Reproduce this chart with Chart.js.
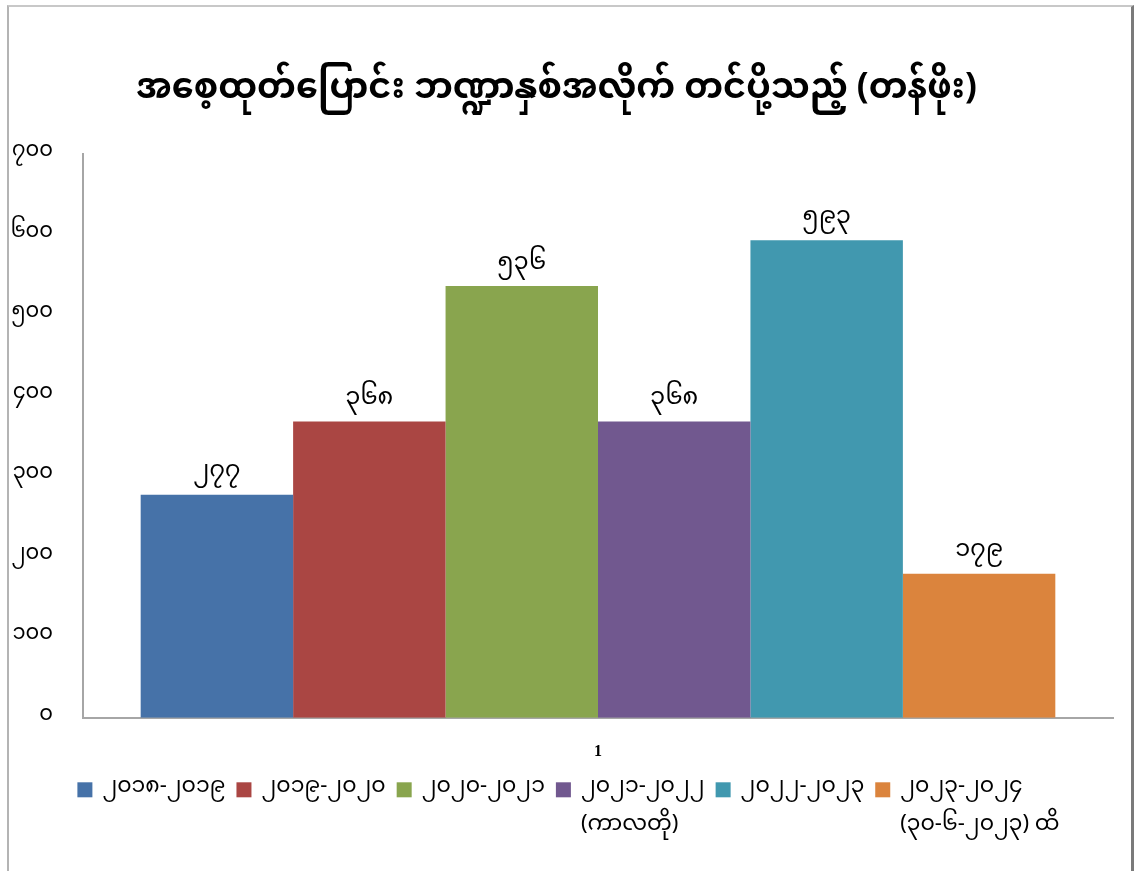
<!DOCTYPE html>
<html>
<head>
<meta charset="utf-8">
<script src="https://cdn.jsdelivr.net/npm/chart.js@4/dist/chart.umd.min.js"></script>
<style>
body { margin: 0; background: #fff; }
#wrap { position: relative; width: 1136px; height: 871px; }
#frame { position: absolute; left: 7px; top: 5px; width: 1122px; height: 880px;
  border-left: 2px solid #b4b4b4; border-top: 2px solid #c8c8c8; border-right: 3px solid #7a7a7a; }
canvas { position: absolute; left: 0; top: 0; }
</style>
</head>
<body>
<div id="wrap">
<canvas id="exportChart" width="1136" height="871"></canvas>
<div id="frame"></div>
</div>
<script>
var chartTitle = "အစေ့ထုတ်ပြောင်း ဘဏ္ဍာနှစ်အလိုက် တင်ပို့သည့် (တန်ဖိုး)";
var categories = ["1"];
var seriesNames = [
    ["၂၀၁၈-၂၀၁၉"],
    ["၂၀၁၉-၂၀၂၀"],
    ["၂၀၂၀-၂၀၂၁"],
    ["၂၀၂၁-၂၀၂၂", "(ကာလတို)"],
    ["၂၀၂၂-၂၀၂၃"],
    ["၂၀၂၃-၂၀၂၄", "(၃၀-၆-၂၀၂၃) ထိ"]
];
var seriesValues = [277, 368, 536, 368, 593, 179];
var seriesColors = ["#4672a8", "#aa4643", "#89a54e", "#71588f", "#4198af", "#db843d"];
var yTicks = [0, 100, 200, 300, 400, 500, 600, 700];

var mmFont = "'Noto Sans Myanmar', 'Myanmar Text', Padauk, 'Noto Sans', sans-serif";

// western digits -> myanmar digits
function mmDigits(n) {
    return String(n).replace(/[0-9]/g, function(d) {
        return String.fromCharCode(0x1040 + parseInt(d));
    });
}

var datasets = [];
for (var i = 0; i < seriesValues.length; i += 1) {
    datasets.push({
        label: seriesNames[i].join(" "),
        data: [seriesValues[i]],
        backgroundColor: seriesColors[i],
        borderWidth: 0,
        barPercentage: 1.0,
        categoryPercentage: 0.888
    });
}

// value labels above each bar
var valueLabels = {
    id: "valueLabels",
    afterDatasetsDraw: function(chart) {
        var ctx = chart.ctx;
        ctx.save();
        ctx.fillStyle = "#000";
        ctx.font = "24px " + mmFont;
        ctx.textAlign = "center";
        ctx.textBaseline = "bottom";
        chart.data.datasets.forEach(function(ds, i) {
            var bar = chart.getDatasetMeta(i).data[0];
            ctx.fillText(mmDigits(ds.data[0]), bar.x, bar.y - 8);
        });
        ctx.restore();
    }
};

// legend under the axis, labels can have two lines
var bottomLegend = {
    id: "bottomLegend",
    afterDraw: function(chart) {
        var ctx = chart.ctx;
        var box = 15, gap = 10, itemGap = 11, lineH = 38;
        ctx.save();
        ctx.font = "22px " + mmFont;
        var widths = [];
        var total = 0;
        for (var i = 0; i < seriesNames.length; i += 1) {
            // second lines hang below, only the first line sets spacing
            var w0 = ctx.measureText(seriesNames[i][0]).width;
            widths.push(w0);
            total += box + gap + w0 + (i < seriesNames.length - 1 ? itemGap : 0);
        }
        var x = (chart.width - total) / 2 - 18;
        var y = chart.chartArea.bottom + 72;
        ctx.textBaseline = "middle";
        ctx.textAlign = "left";
        for (var k = 0; k < seriesNames.length; k += 1) {
            ctx.fillStyle = seriesColors[k];
            ctx.fillRect(x, y - box / 2, box, box);
            ctx.fillStyle = "#000";
            for (var m = 0; m < seriesNames[k].length; m += 1) {
                ctx.fillText(seriesNames[k][m], x + box + gap, y + m * lineH);
            }
            x += box + gap + widths[k] + itemGap;
        }
        ctx.restore();
    }
};

var canvas = document.getElementById("exportChart");
var myBarChart = new Chart(canvas, {
    type: "bar",
    data: { labels: categories, datasets: datasets },
    plugins: [valueLabels, bottomLegend],
    options: {
        responsive: false,
        animation: false,
        layout: { padding: { left: 0, right: 23, top: 0, bottom: 86 } },
        plugins: {
            legend: { display: false },
            tooltip: { enabled: false },
            title: {
                display: true,
                text: chartTitle,
                color: "#000",
                font: { family: mmFont, size: 35, weight: "bold" },
                padding: { top: 73, bottom: 39 }
            }
        },
        scales: {
            x: {
                grid: { display: false, drawTicks: false },
                border: { display: true, color: "#a6a6a6", width: 2 },
                ticks: {
                    color: "#000",
                    padding: 24,
                    font: { family: "'Liberation Serif', serif", size: 16, weight: "bold" }
                }
            },
            y: {
                min: 0,
                max: 700,
                afterFit: function(scale) { scale.width = 83; },
                afterBuildTicks: function(scale) {
                    scale.ticks = yTicks.map(function(v) { return { value: v }; });
                },
                grid: { display: false, drawTicks: false },
                border: { display: true, color: "#a6a6a6", width: 2 },
                ticks: {
                    color: "#000",
                    padding: 30,
                    font: { family: mmFont, size: 21 },
                    callback: function(v) { return mmDigits(v); }
                }
            }
        }
    }
});
</script>
</body>
</html>
